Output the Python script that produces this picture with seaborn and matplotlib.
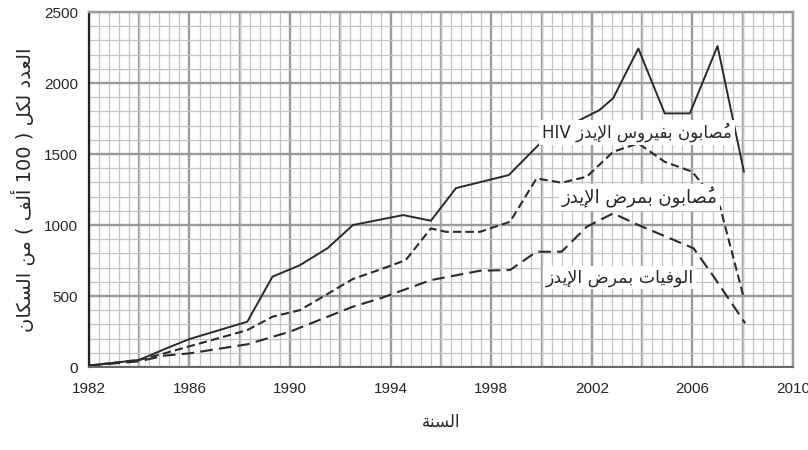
import pandas as pd
import matplotlib
matplotlib.use("Agg")
import matplotlib.pyplot as plt
import seaborn as sns
from matplotlib.ticker import MultipleLocator, FixedLocator

# Data (per 100,000 population)
years_hiv = [1982, 1984, 1985.2, 1986, 1988.3, 1989.3, 1990.4, 1991.5, 1992.5, 1994.5, 1995.6,
             1996.6, 1998.7, 2000.2, 2002.3, 2002.85, 2003.85, 2004.9, 2005.9, 2007.0, 2008.05]
hiv = [10, 50, 140, 197, 319, 636, 718, 838, 1000, 1070, 1030,
       1260, 1352, 1621, 1809, 1893, 2243, 1786, 1786, 2260, 1375]

years_cases = [1982, 1984, 1985, 1988.3, 1989.3, 1990.4, 1992.5, 1993.6, 1994.6, 1995.6, 1996.2,
               1997.55, 1998.75, 1999.8, 2000.8, 2001.8, 2002.85, 2003.85, 2004.9, 2006.0, 2007.1, 2008.05]
cases = [10, 50, 96, 260, 354, 401, 620, 688, 753, 976, 952,
         952, 1023, 1328, 1298, 1340, 1516, 1575, 1445, 1375, 1128, 484]

years_deaths = [1982, 1984, 1985, 1986, 1988.3, 1990, 1992.5, 1993.6, 1995.6, 1997.55,
                1998.75, 1999.8, 2000.8, 2001.8, 2002.85, 2003.85, 2006.05, 2006.85, 2008.1]
deaths = [10, 40, 80, 96, 160, 249, 425, 484, 612, 678,
          683, 812, 812, 988, 1082, 1000, 836, 636, 308]

label_hiv = "مُصابون بفيروس الإيدز HIV"
label_cases = "مُصابون بمرض الإيدز"
label_deaths = "الوفيات بمرض الإيدز"
x_title = "السنة"
y_title = "العدد لكل ( 100 ألف ) من السكان"

x_ticks = list(range(1982, 2011, 4))
y_ticks = list(range(0, 2501, 500))


# matplotlib has no Arabic shaping / bidi, so do a small one by hand
# isolated, final, initial, medial
FORMS = {
    'ا': (0xFE8D, 0xFE8E, None, None), 'أ': (0xFE83, 0xFE84, None, None),
    'إ': (0xFE87, 0xFE88, None, None), 'ة': (0xFE93, 0xFE94, None, None),
    'د': (0xFEA9, 0xFEAA, None, None), 'ر': (0xFEAD, 0xFEAE, None, None),
    'ز': (0xFEAF, 0xFEB0, None, None), 'و': (0xFEED, 0xFEEE, None, None),
    'ب': (0xFE8F, 0xFE90, 0xFE91, 0xFE92), 'ت': (0xFE95, 0xFE96, 0xFE97, 0xFE98),
    'س': (0xFEB1, 0xFEB2, 0xFEB3, 0xFEB4), 'ص': (0xFEB9, 0xFEBA, 0xFEBB, 0xFEBC),
    'ض': (0xFEBD, 0xFEBE, 0xFEBF, 0xFEC0), 'ع': (0xFEC9, 0xFECA, 0xFECB, 0xFECC),
    'ف': (0xFED1, 0xFED2, 0xFED3, 0xFED4), 'ك': (0xFED9, 0xFEDA, 0xFEDB, 0xFEDC),
    'ل': (0xFEDD, 0xFEDE, 0xFEDF, 0xFEE0), 'م': (0xFEE1, 0xFEE2, 0xFEE3, 0xFEE4),
    'ن': (0xFEE5, 0xFEE6, 0xFEE7, 0xFEE8), 'ي': (0xFEF1, 0xFEF2, 0xFEF3, 0xFEF4),
}
LAM_ALEF = {'آ': (0xFEF5, 0xFEF6), 'أ': (0xFEF7, 0xFEF8), 'إ': (0xFEF9, 0xFEFA), 'ا': (0xFEFB, 0xFEFC)}
MARKS = '\u064b\u064c\u064d\u064e\u064f\u0650\u0651\u0652'
MIRROR = {'(': ')', ')': '('}


def arabic(text):
    clusters = []
    for ch in text:
        if ch in MARKS and clusters:
            clusters[-1][1] += ch
        else:
            clusters.append([ch, ''])
    merged = []
    i = 0
    while i < len(clusters):
        b, m = clusters[i]
        if b == 'ل' and i + 1 < len(clusters) and clusters[i + 1][0] in LAM_ALEF:
            merged.append(['LA' + clusters[i + 1][0], m + clusters[i + 1][1]])
            i += 2
        else:
            merged.append([b, m])
            i += 1

    def is_ar(b):
        return b is not None and (b in FORMS or b.startswith('LA'))

    tokens = []
    for i, (b, m) in enumerate(merged):
        prev = merged[i - 1][0] if i > 0 else None
        nxt = merged[i + 1][0] if i + 1 < len(merged) else None
        jp = prev in FORMS and FORMS[prev][2] is not None
        jn = is_ar(nxt)
        if b.startswith('LA'):
            iso, fin = LAM_ALEF[b[2]]
            g = chr(fin if jp else iso)
        elif b in FORMS:
            iso, fin, ini, med = FORMS[b]
            if jp and jn and ini is not None:
                g = chr(med)
            elif jp:
                g = chr(fin)
            elif jn and ini is not None:
                g = chr(ini)
            else:
                g = chr(iso)
        else:
            g = MIRROR.get(b, b)
        # keep latin / digit runs together in their own order
        if g.isascii() and g.isalnum() and tokens and tokens[-1].isascii() and tokens[-1].isalnum():
            tokens[-1] += g
        else:
            # zero-width mark drawn first so it sits over its letter
            tokens.append(m + g)
    return ''.join(reversed(tokens))


df = pd.concat([
    pd.DataFrame({"year": years_hiv, "value": hiv, "series": "hiv"}),
    pd.DataFrame({"year": years_cases, "value": cases, "series": "cases"}),
    pd.DataFrame({"year": years_deaths, "value": deaths, "series": "deaths"}),
])

sns.set_style("white")
plt.rcParams['font.family'] = ['Liberation Sans', 'DejaVu Sans']

fig = plt.figure(figsize=(8.08, 4.5), dpi=100)
ax = fig.add_axes([0.110, 0.1844, 0.8714, 0.7889])

styles = {"hiv": (None, 1.4), "cases": ((4, 2), 1.5), "deaths": ((6, 3), 1.5)}
for name, (dash, lw) in styles.items():
    sub = df[df["series"] == name]
    sns.lineplot(data=sub, x="year", y="value", ax=ax, color="#2a2a2a",
                 linewidth=lw, estimator=None, sort=False, legend=False)
    if dash is not None:
        ax.lines[-1].set_dashes(dash)

ax.set_xlim(1982, 2010)
ax.set_ylim(0, 2500)

# graph-paper grid
ax.xaxis.set_major_locator(FixedLocator(x_ticks))
ax.xaxis.set_minor_locator(MultipleLocator(0.4))
ax.yaxis.set_major_locator(FixedLocator(y_ticks))
ax.yaxis.set_minor_locator(MultipleLocator(100))
ax.grid(which="minor", color="#c4c4c4", linewidth=0.9)
ax.grid(which="major", color="#9a9a9a", linewidth=1.7)
for yr in range(1984, 2010, 4):
    ax.axvline(yr, color="#9a9a9a", linewidth=1.7, zorder=0.5)
ax.set_axisbelow(True)

ax.tick_params(axis="both", which="major", direction="out", length=5, width=1,
               color="#555555", labelsize=11)
ax.tick_params(axis="x", which="major", pad=6)
ax.tick_params(axis="y", which="major", pad=3)
ax.tick_params(axis="both", which="minor", length=0)

for side in ["top", "right"]:
    ax.spines[side].set_color("#9a9a9a")
    ax.spines[side].set_linewidth(1.7)
ax.spines["left"].set_color("#222222")
ax.spines["left"].set_linewidth(1.6)
ax.spines["bottom"].set_color("#666666")
ax.spines["bottom"].set_linewidth(1.4)

ax.set_xlabel(arabic(x_title), family=['DejaVu Sans'], fontsize=12, labelpad=12)
ax.set_ylabel(arabic(y_title), family=['DejaVu Sans'], fontsize=14, labelpad=6)

box = dict(facecolor="white", edgecolor="none", pad=2)
ax.text(2003.8, 1650, arabic(label_hiv), family=['DejaVu Sans'], fontsize=12,
        ha="center", va="center", bbox=box, zorder=5)
ax.text(2003.9, 1195, arabic(label_cases), family=['DejaVu Sans'], fontsize=13,
        ha="center", va="center", bbox=box, zorder=5)
ax.text(2003.1, 630, arabic(label_deaths), family=['DejaVu Sans'], fontsize=12.5,
        ha="center", va="center", bbox=box, zorder=5)

plt.savefig("out.png", dpi=100)
